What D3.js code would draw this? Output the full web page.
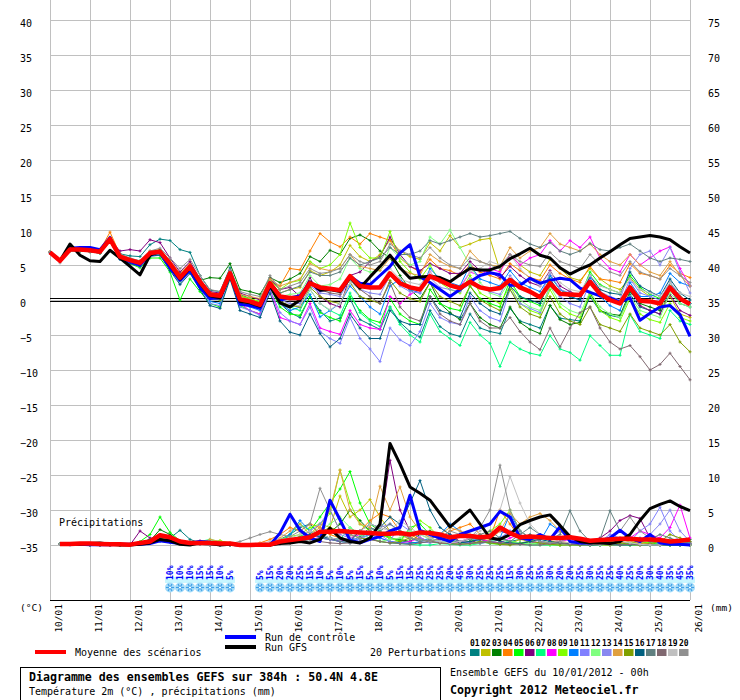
<!DOCTYPE html>
<html lang="fr">
<head>
<meta charset="utf-8">
<title>Diagramme des ensembles GEFS</title>
<script src="https://cdn.jsdelivr.net/npm/d3@7"></script>
<style>
  body { margin: 0; background: #fff; }
  svg text { font-family: "DejaVu Sans Mono", monospace; }
</style>
</head>
<body>
<script>
// ---- data ----
var dayLabels = ["10/01","11/01","12/01","13/01","14/01","15/01","16/01","17/01","18/01",
                 "19/01","20/01","21/01","22/01","23/01","24/01","25/01","26/01"];
var tempTicks = [-35,-30,-25,-20,-15,-10,-5,0,5,10,15,20,25,30,35,40];
var precTicks = [0,5,10,15,20,25,30,35,40,45,50,55,60,65,70,75];
var pertNames = ["01","02","03","04","05","06","07","08","09","10",
                 "11","12","13","14","15","16","17","18","19","20"];
var pertColors = ["#008080","#c0c000","#008000","#ff8000","#00ff00","#800080","#00ff80","#ff00ff","#80ff00","#0080ff",
                  "#8080ff","#80ff80","#8888f0","#e0a040","#80a000","#006080","#608080","#806870","#c0c0c0","#909090"];

// temperature 2m (°C), every 6 h from 10/01 00h to 26/01 00h
var tempMean = [6.8,5.6,7.2,7.2,7.1,6.9,8.7,6.2,5.7,5.3,6.7,6.9,5.2,3.2,4.8,2.6,0.8,0.6,3.8,0.1,
  -0.2,-0.7,2.4,0.5,0.3,0.3,2.4,1.8,1.6,1.4,3.4,2.0,1.8,1.8,3.8,2.4,1.8,1.5,3.4,2.8,
  2.1,1.7,2.6,1.8,1.5,1.7,2.9,1.8,1.2,0.4,2.4,0.9,0.8,0.7,2.6,0.9,0.0,-0.5,1.8,-0.1,-0.2,-0.5,1.8,0.2,-0.6];
var tempControl = [6.8,5.6,7.4,7.5,7.5,7.2,8.9,6.0,5.5,5.0,6.5,6.8,4.6,
  2.8,4.3,1.8,0.2,0.3,3.7,-0.6,-0.8,-1.2,2.0,0.0,0.3,
  0.6,2.5,1.4,1.6,1.3,3.4,
  2.4,2.2,3.5,4.8,6.7,7.9,3.3,2.5,1.5,0.5,1.5,2.6,3.5,3.9,3.6,2.1,2.1,3.1,2.4,2.8,3.1,2.9,1.7,1.1,0.6,0.3,-0.3,0.3,-2.9,-1.9,-1.0,-0.8,-2.1,-5.2];
var tempGFS = [6.8,5.6,8.0,6.4,5.6,5.5,7.1,6.0,4.8,3.6,6.4,7.0,5.0,
  3.0,4.6,2.4,0.6,0.3,3.6,-0.2,-0.4,-0.9,2.0,-0.4,-1.0,
  0.0,2.6,1.4,1.5,1.2,3.2,
  1.7,3.3,4.8,6.4,4.6,3.1,3.3,3.4,3.2,2.6,3.6,4.5,4.3,4.3,4.8,5.9,6.6,7.4,6.4,6.0,4.6,3.7,4.4,5.0,6.0,6.9,7.9,8.8,9.0,9.2,9.0,8.6,7.6,6.7];

var temp01 = [6.8,5.7,7.4,7.4,7.3,7.2,8.9,6.6,6.3,6.2,7.9,8.7,8.5, 7.2,6.8,3.5,1.4,1.2,4.6,0.8,0.2,-0.4,2.8,-0.5,-1.8,
  -2.5,0.5,-1.5,-3.0,-2.6,0.2,-2.8,-3.5,-4.2,-1.0,-3.2,-4.5,-5.3,-1.5,-3.8,-4.8,-5.2,-2.0,-4.0,-4.5,-4.8,-1.2,-3.0,-3.5,-4.0,-0.8,-2.6,-2.8,-3.0,0.5,-1.6,-2.2,-2.5,0.8,-1.0,-1.5,-2.0,1.5,-0.5,-1.0];
var temp02 = [6.8,5.8,7.3,7.1,7.0,6.8,8.5,6.1,5.8,5.6,7.0,7.2,5.6, 3.8,5.2,2.8,1.0,0.9,3.9,0.6,0.2,-0.3,2.5,1.0,1.5,
  1.8,4.2,3.5,4.0,5.0,7.8,6.2,5.5,6.5,8.6,7.0,6.2,5.8,8.2,7.0,9.2,7.5,8.0,8.6,8.8,4.2,6.5,5.0,4.0,3.5,5.8,4.5,3.2,2.8,4.5,3.0,2.0,1.5,3.2,1.5,0.5,-1.2,0.5,-2.0,-2.5];
var temp03 = [6.8,5.6,7.0,7.0,6.9,6.7,8.4,5.9,5.4,5.0,6.4,6.6,4.5, 2.6,4.5,2.8,3.2,3.1,5.2,1.5,1.2,0.8,3.2,2.5,3.0,
  3.8,6.2,5.5,7.1,6.5,8.8,9.3,8.5,7.0,6.0,3.5,1.5,0.2,2.5,-0.5,-1.8,-2.8,-0.5,-2.5,-3.5,-4.0,-1.0,-3.2,-4.2,-4.8,-0.8,-2.8,-3.5,-3.2,1.0,-1.5,-2.0,-2.2,1.2,-0.5,-1.0,-1.5,2.5,0.5,-0.5];
var temp04 = [6.9,5.7,7.5,7.4,7.3,7.1,9.7,6.5,5.9,5.5,6.9,7.1,5.4, 3.5,5.0,2.9,1.0,0.8,4.0,0.4,0.1,-0.5,2.6,2.0,4.5,
  4.3,7.0,9.5,8.3,7.6,9.0,8.0,9.5,9.0,8.5,6.0,4.8,4.0,5.8,4.5,4.2,3.5,5.0,4.0,3.5,3.0,5.2,4.2,3.2,2.8,5.0,3.8,3.0,2.5,4.8,3.0,2.8,2.5,5.2,3.8,3.5,3.0,5.0,3.8,3.2];
var temp05 = [6.8,5.6,7.1,7.0,6.9,6.7,8.5,5.9,5.2,4.6,6.0,6.0,4.0, 0.0,3.0,1.2,-0.5,-1.0,3.3,-0.8,-1.5,-2.0,1.8,-1.0,-2.0,
  -2.2,0.5,-1.8,-2.5,-3.0,0.5,-1.5,-2.8,-3.2,0.2,-2.0,-3.0,-3.5,1.5,-0.5,-1.2,-1.5,2.0,0.2,-0.5,-1.0,2.8,0.5,-0.2,-0.8,3.5,1.5,0.8,0.5,4.0,2.2,1.5,1.0,3.5,1.8,0.8,0.2,2.0,0.5,-0.5];
var temp06 = [6.8,5.7,7.3,7.3,7.2,7.0,8.6,7.0,7.2,7.0,8.6,8.2,6.0, 4.0,5.5,3.0,1.2,1.0,4.2,1.0,0.5,0.0,3.0,1.5,1.8,
  0.5,3.2,0.5,-0.5,-1.0,3.5,4.0,5.5,6.2,9.0,6.5,4.8,4.2,5.2,4.5,3.8,3.8,5.5,4.2,4.0,3.2,4.8,3.5,2.5,2.0,4.2,2.0,1.2,0.5,2.5,0.8,0.2,-0.5,1.5,-0.8,-1.5,-2.0,0.8,-1.5,-2.2];
var temp07 = [6.8,5.6,7.2,7.1,7.0,6.8,8.5,6.1,5.6,5.2,6.5,6.6,4.8, 2.8,4.2,2.2,0.5,0.2,3.5,-0.2,-0.6,-1.0,2.0,-0.5,-1.0,
  -1.5,1.5,-0.5,-1.5,-2.2,1.0,-1.8,-3.0,-3.8,-1.0,-3.5,-5.0,-6.0,-2.0,-4.5,-5.5,-6.5,-3.2,-5.0,-6.2,-9.5,-6.0,-7.0,-7.6,-7.9,-5.1,-7.0,-7.5,-8.6,-5.1,-6.5,-7.9,-7.9,-2.1,-4.5,-5.0,-5.5,-1.5,-3.0,-3.5];
var temp08 = [6.8,5.6,7.2,7.2,7.1,6.9,8.8,6.3,5.8,5.4,6.8,7.0,5.3, 3.3,4.9,2.5,0.6,0.4,3.8,-0.5,-1.5,-2.0,1.5,-2.5,-3.0,
  -3.5,-0.5,-4.0,-4.5,-4.9,-1.5,-3.5,-4.0,-4.2,0.5,-0.5,0.8,1.5,4.0,2.5,2.0,1.8,4.0,3.5,4.5,4.0,6.5,5.0,6.0,6.5,8.5,7.0,8.5,7.5,9.0,6.0,4.5,4.0,6.5,5.0,6.0,7.0,7.6,4.5,2.0];
var temp09 = [6.8,5.7,7.3,7.2,7.1,6.9,8.6,6.2,5.7,5.2,6.5,6.8,5.0, 3.0,4.6,2.5,0.8,0.5,3.9,0.5,0.2,-0.2,2.8,1.5,2.5,
  2.8,5.5,4.5,5.0,6.5,11.0,7.5,6.0,6.0,9.8,5.5,4.0,3.0,5.0,2.5,1.5,1.0,3.5,1.0,0.2,-0.5,2.0,-0.5,-1.5,-2.0,1.5,-1.0,-2.0,-2.5,0.8,-1.5,-2.5,-3.0,0.2,-2.0,-2.8,-3.2,-0.5,-2.5,-3.0];
var temp10 = [6.8,5.6,7.2,7.3,7.2,7.0,8.7,6.0,5.5,5.0,6.5,6.6,4.6, 2.8,4.3,2.0,-0.2,-0.5,3.5,-0.5,-1.0,-1.5,1.8,-0.5,-1.5,
  -1.0,0.8,-2.4,-1.5,-0.5,2.0,0.5,-1.0,-2.0,2.0,3.0,1.5,1.0,4.5,3.0,2.5,2.0,5.0,3.0,2.5,2.0,4.2,2.5,1.8,1.2,3.5,1.5,0.5,0.0,3.2,0.5,-0.8,-1.5,2.5,0.5,0.5,1.0,3.8,2.5,2.0];
var temp11 = [6.8,5.6,7.3,7.2,7.0,6.8,8.4,5.8,5.3,4.8,6.2,6.4,4.4, 2.4,4.0,1.8,-0.5,-0.8,3.3,-1.0,-1.5,-2.2,1.5,-1.8,-3.0,
  -3.5,-1.0,-4.5,-5.5,-6.2,-2.5,-5.5,-7.0,-8.8,-4.0,-5.7,-6.5,-4.5,-0.5,-2.5,-3.2,-3.5,0.5,-1.5,-2.5,-3.0,1.5,-0.5,-1.2,-1.8,2.0,0.5,-0.5,-1.0,2.5,0.8,0.0,-0.5,3.0,1.0,0.5,0.0,2.5,0.5,-0.5];
var temp12 = [6.8,5.6,7.2,7.1,7.0,6.8,8.6,6.0,5.5,5.0,6.4,6.6,4.7, 2.6,4.2,2.0,0.2,0.0,3.5,0.0,-0.5,-1.0,2.2,0.5,0.8,
  1.0,3.5,2.0,2.2,3.0,6.0,4.5,4.0,4.2,7.5,6.0,5.0,5.5,9.0,8.0,10.0,7.5,5.0,2.5,1.0,0.5,2.8,0.0,-1.0,-1.5,2.0,-0.5,-1.5,-2.0,1.2,-1.0,-2.0,-2.5,0.5,-1.5,-2.0,-2.5,1.0,-0.5,-1.0];
var temp13 = [6.8,5.7,7.2,7.2,7.1,6.9,8.6,6.1,5.6,5.2,6.6,6.8,5.0, 3.0,4.6,2.3,0.4,0.2,3.7,0.0,-0.4,-1.0,2.2,0.0,-0.5,
  -0.5,2.0,1.0,0.8,0.5,3.0,1.5,1.0,0.8,3.5,2.0,1.2,1.0,3.2,1.8,1.5,1.2,3.0,2.0,1.2,0.8,3.5,1.8,1.0,0.5,3.8,1.5,1.0,0.5,3.5,1.2,0.5,0.0,4.5,6.5,7.0,5.0,7.5,4.0,1.0];
var temp14 = [6.9,5.7,7.3,7.3,7.2,7.0,9.0,6.4,5.9,5.5,6.9,7.1,5.4, 3.5,5.0,2.8,1.0,0.8,4.0,0.8,0.5,0.2,3.0,2.0,2.5,
  3.0,5.2,4.5,4.2,4.5,6.5,4.8,4.5,4.2,6.0,4.5,3.8,3.5,6.5,5.5,4.8,4.5,7.0,5.5,5.0,4.8,7.5,6.0,7.0,7.5,9.5,8.0,7.5,7.0,8.0,6.5,5.5,5.0,6.5,5.0,4.0,3.5,5.5,3.5,2.0];
var temp15 = [6.8,5.6,7.1,7.1,7.0,6.8,8.5,6.0,5.5,5.1,6.5,6.7,4.9, 2.9,4.4,2.2,0.3,0.0,3.5,-0.2,-0.6,-1.2,2.0,-0.2,-0.8,
  -1.0,1.8,0.5,-0.2,-0.5,2.5,0.5,0.0,-0.5,2.8,1.0,0.2,-0.2,2.5,0.5,-0.2,-0.8,2.0,0.0,-0.8,-1.5,1.5,-1.0,-2.0,-2.5,0.5,-2.0,-3.0,-3.5,-1.0,-3.5,-4.0,-4.5,-2.0,-4.0,-4.5,-5.0,-3.5,-6.0,-7.4];
var temp16 = [6.8,5.6,7.1,7.0,6.9,6.7,8.3,5.8,5.2,4.8,6.3,6.4,4.2, 2.2,3.8,1.5,-0.8,-1.2,3.0,-1.5,-2.0,-2.5,1.0,-3.0,-4.6,
  -5.0,-2.0,-4.8,-6.7,-5.5,-2.0,-4.0,-5.5,-5.5,-1.5,-3.0,-3.5,-3.5,0.5,-1.5,-2.0,-2.5,1.0,-0.5,-1.5,-2.0,2.0,0.5,0.0,-0.5,3.0,1.0,0.5,0.0,3.5,1.5,1.0,0.8,4.0,2.0,1.2,0.5,3.0,1.0,0.0];
var temp17 = [6.8,5.6,7.2,7.2,7.1,6.9,8.7,6.2,5.7,5.3,6.7,6.9,5.2, 3.2,4.8,2.5,0.7,0.5,3.8,0.3,0.0,-0.5,2.6,1.0,1.5,
  2.0,4.0,3.5,3.5,4.0,6.0,5.0,5.5,6.0,7.5,6.5,6.5,7.0,8.5,8.0,8.5,9.0,9.5,9.0,9.2,9.5,9.8,8.8,8.0,7.5,8.2,7.0,6.5,7.0,8.1,7.2,7.0,7.5,8.0,7.0,6.0,5.5,6.0,5.8,5.5];
var temp18 = [6.8,5.6,7.2,7.1,7.0,6.8,8.6,6.1,5.6,5.2,6.6,6.8,5.0, 3.0,4.7,2.4,0.5,0.3,3.7,0.0,-0.3,-0.8,2.4,0.2,0.0,
  0.0,2.5,1.5,1.0,0.8,3.2,1.5,0.5,-0.5,2.5,-1.0,-2.5,-3.0,0.5,-2.0,-3.0,-3.5,-0.5,-3.0,-4.0,-4.0,-2.5,-4.5,-6.0,-7.1,-4.0,-6.7,-4.0,-1.8,-1.0,-4.0,-6.0,-7.0,-6.5,-8.1,-10.0,-9.2,-7.6,-9.5,-11.4];
var temp19 = [6.8,5.7,7.2,7.2,7.1,6.9,8.7,6.3,5.8,5.4,6.8,7.0,5.3, 3.4,4.9,2.7,0.9,0.7,3.9,0.4,0.0,-0.5,2.6,0.2,-0.8,
  -0.8,1.5,-0.5,-1.4,-0.5,2.5,1.5,1.8,2.0,4.5,3.0,2.5,2.2,4.0,2.5,2.0,1.5,4.0,4.5,5.5,5.0,6.5,4.5,3.0,2.0,4.0,2.5,1.5,1.2,3.5,2.0,1.5,1.0,3.0,1.5,1.0,0.5,2.5,1.0,0.5];
var temp20 = [6.7,5.3,7.0,7.0,6.9,6.7,8.4,6.6,6.0,5.6,7.0,7.4,6.0, 4.5,5.8,3.5,1.5,1.2,4.3,1.2,0.8,0.5,3.5,1.5,2.0,
  2.5,4.5,3.8,4.0,4.5,6.5,5.5,5.0,5.5,8.0,7.0,6.5,6.0,7.5,6.0,5.0,4.5,6.0,5.5,5.0,4.5,6.5,5.5,5.0,4.8,6.8,5.5,5.0,4.5,6.5,5.0,4.0,3.5,5.5,4.0,3.5,3.0,4.5,3.5,2.5];

// precipitation (mm per 6 h), first step has no value
var precMean = [null,0.15,0.15,0.2,0.2,0.15,0.1,0.1,0.05,0.3,0.5,1.4,1.1,0.5,0.3,0.3,0.3,0.2,0.2,0.0,
  0.0,0.05,0.05,0.5,0.7,0.9,1.1,1.9,1.9,2.0,1.9,1.8,1.7,1.6,1.6,1.7,1.5,1.8,1.7,1.5,
  1.1,1.3,1.3,1.1,1.2,2.5,1.7,1.1,1.2,1.1,1.0,1.0,1.1,0.9,0.6,0.7,0.8,0.9,0.9,0.8,0.8,0.7,0.5,0.6,0.8];
var precControl = [null,0.1,0.1,0.1,0.05,0.05,0.05,0.1,0.1, 0.1,0.2,0.6,0.4,0.2,0.3,0.5,0.4,0.2,0.1, 0,0,0,0,
  1.7,4.4,2.1,1.0,0.5,6.4,3.6,0.7,0.3,0.8,1.2,2.0,2.5,7.1,2.1,1.5,1.0,0.5,
  1.5,2.0,2.5,3.0,4.8,4.0,1.0,0.8,1.5,0.8,2.6,0.5, 0.3,0.3,0.5,1.0,2.1,1.0,0.5,1.5,0.3,0.1,0.1,0.0];
var precGFS = [null,0.2,0.2,0.1,0.2,0.3,0.1,0.0,0.0, 0.1,0.3,0.8,0.6,0.1,0.0,0.3,0.2,0.0,0.1, 0,0,0,0,
  0.2,0.3,0.5,0.3,0.8,2.4,1.0,0.5,0.3,1.0,3.0,14.5,11.6,8.3,7.4,6.4,4.5,2.6,
  3.8,5.0,3.0,1.0,0.8,1.5,2.9,3.5,4.0,4.3,2.8,1.2, 0.5,0.3,0.3,0.2,0.5,1.5,3.5,5.2,5.8,6.3,5.5,4.9];

var prec01 = [null,0.2,0.1,0.2,0.1,0.1,0.0,0.1,0.0, 0.3,0.8,1.5,1.0,2.1,0.8,0.3,0.2,0.1,0.0, 0,0,0,0.2,
  0.8,1.5,2.5,3.0,1.5,2.0,1.0,0.5,1.2,2.5,1.8,1.0,0.6,0.4,0.3,0.5,1.0,0.8,
  0.3,0.2,0.4,0.6,1.0,0.5,0.8,1.5,0.5,0.3,0.2,0.1, 0.2,0.1,0.0,0.3,0.5,0.2,0.1,0.0,0.1,0.0,0.2,0.1];
var prec02 = [null,0.1,0.1,0.1,0.0,0.0,0.0,0.1,0.1, 0.2,0.5,1.0,0.8,0.4,0.3,0.2,0.5,0.6,0.2, 0,0,0,0.1,
  0.5,1.0,0.8,1.5,3.0,2.5,7.0,4.0,5.0,6.5,4.0,2.0,1.5,0.8,2.0,1.0,0.5,0.3,
  0.2,0.5,1.0,0.5,0.3,0.2,0.8,0.5,1.2,0.6,0.3,0.2, 0.1,0.2,0.5,0.3,0.1,0.0,0.2,0.5,0.3,0.1,0.0,0.0];
var prec03 = [null,0.1,0.1,0.1,0.1,0.0,0.0,0.0,0.0, 0.2,0.6,2.2,1.5,0.5,0.2,0.1,0.3,0.2,0.1, 0,0,0,0,
  0.3,0.8,1.0,1.5,2.0,1.8,3.0,5.0,3.5,2.0,1.5,1.0,0.8,0.5,1.5,2.0,1.0,0.5,
  0.3,0.5,0.8,0.4,0.2,0.1,0.3,0.5,0.2,0.1,0.0,0.2, 0.1,0.0,0.0,0.2,0.5,0.8,0.3,0.1,0.0,0.2,0.5,0.8];
var prec04 = [null,0.1,0.1,0.2,0.1,0.0,0.0,0.0,0.0, 0.1,0.4,0.8,0.6,0.3,0.2,0.1,0.0,0.0,0.0, 0,0,0.3,0.8,
  1.5,2.5,2.0,3.0,2.5,1.5,1.0,0.8,2.0,3.5,4.5,4.0,2.0,1.5,0.8,0.5,1.0,2.0,
  2.5,3.0,1.5,1.0,5.0,3.0,1.0,0.5,0.3,0.2,0.5,0.3, 0.2,0.1,0.0,0.0,0.3,0.5,0.2,0.1,0.0,0.0,0.2,0.3];
var prec05 = [null,0.1,0.2,0.2,0.1,0.1,0.0,0.0,0.1, 0.5,1.5,4.0,1.8,0.6,0.4,0.3,0.5,0.3,0.1, 0,0,0,0.1,
  0.5,0.8,1.2,2.0,4.0,6.0,8.0,10.5,6.0,3.0,2.0,1.0,0.5,2.5,3.0,1.5,1.0,0.5,
  1.5,0.8,0.5,0.2,0.1,0.5,0.3,0.2,0.1,0.0,0.0,0.1, 0.0,0.0,0.1,0.0,0.0,0.2,0.5,0.3,0.1,0.0,0.0,0.0];
var prec06 = [null,0.1,0.1,0.1,0.1,0.0,0.0,0.0,0.0, 2.0,1.0,0.8,0.5,0.3,0.4,0.6,0.3,0.5,0.2, 0,0,0,0,
  0.2,0.5,0.8,1.0,1.5,1.0,0.5,0.8,2.0,1.5,2.5,12.1,5.0,2.0,1.0,0.5,0.8,1.5,
  0.5,0.3,0.8,1.5,2.0,1.5,1.0,0.5,0.3,0.2,0.1,0.1, 0.2,0.5,1.0,2.0,3.5,4.2,3.8,1.0,0.5,0.2,0.1,0.2];
var prec07 = [null,0.1,0.1,0.1,0.0,0.0,0.1,0.1,0.0, 0.3,0.8,1.2,0.8,0.3,0.2,0.5,0.8,0.4,0.2, 0,0,0,0.2,
  0.5,1.5,3.0,2.0,1.5,1.0,0.8,2.5,1.5,1.0,0.5,0.3,0.2,0.1,0.0,0.0,0.2,0.1,
  0.0,0.0,0.2,0.5,1.0,0.3,0.1,0.0,0.0,0.0,0.1,0.0, 0.0,0.0,0.0,0.1,0.0,0.0,0.0,0.0,0.1,0.0,0.0,0.0];
var prec08 = [null,0.1,0.1,0.1,0.1,0.1,0.0,0.0,0.0, 0.2,0.5,0.8,0.6,0.3,0.2,0.2,0.1,0.1,0.0, 0,0,0,0,
  0.2,0.5,1.0,1.5,1.0,0.8,0.5,1.0,1.5,2.0,1.0,0.5,0.3,0.5,1.0,0.5,0.3,0.2,
  0.5,1.0,0.8,0.5,0.3,1.0,1.5,0.5,0.3,0.2,0.5,0.8, 0.5,0.3,0.2,0.1,0.5,1.0,2.0,1.5,1.0,2.5,5.7,1.0];
var prec09 = [null,0.1,0.1,0.1,0.0,0.0,0.0,0.1,0.0, 0.2,0.6,1.2,0.8,0.4,0.3,0.2,0.2,0.6,0.3, 0,0,0,0.1,
  0.8,1.2,1.5,2.5,3.0,4.5,10.7,6.0,3.0,2.0,1.5,1.0,0.5,2.0,3.5,2.5,1.0,0.5,
  1.5,1.0,0.8,2.0,3.0,5.0,2.0,1.0,0.5,0.3,0.2,0.1, 0.0,0.1,0.0,0.0,0.2,0.0,0.0,0.5,0.2,0.0,0.0,0.0];
var prec10 = [null,0.1,0.0,0.1,0.0,0.0,0.0,0.1,0.0, 0.1,0.3,0.5,0.4,0.2,0.1,0.1,0.0,0.0,0.0, 0,0,0,0,
  0.2,1.5,3.5,2.0,1.0,0.8,0.5,0.3,1.0,1.5,1.0,0.5,0.3,0.2,0.5,1.0,1.5,3.0,
  2.0,1.0,0.5,0.3,1.0,4.5,2.0,1.0,0.5,3.0,2.0,1.0, 0.5,0.3,0.2,0.1,0.0,0.5,1.0,0.5,0.2,0.1,0.0,0.0];
var prec11 = [null,0.1,0.1,0.1,0.1,0.0,0.0,0.0,0.0, 0.2,0.5,1.0,0.7,0.3,0.2,0.1,0.1,0.0,0.0, 0,0,0,0,
  0.3,0.5,1.0,2.0,3.0,5.0,2.0,1.0,0.5,0.8,1.5,0.5,3.0,2.0,1.0,0.5,0.3,1.0,
  0.5,0.3,0.2,0.5,1.0,2.0,1.0,0.5,0.3,0.2,0.1,0.0, 0.1,0.2,0.5,1.5,1.0,0.5,2.0,3.0,5.4,2.0,0.5,0.2];
var prec12 = [null,0.1,0.1,0.1,0.1,0.1,0.0,0.0,0.0, 0.3,0.7,1.5,1.0,0.5,0.3,0.2,0.8,0.5,0.2, 0,0,0,0.1,
  0.3,0.5,0.8,1.2,2.0,3.0,4.0,2.5,1.5,1.0,0.5,0.8,1.0,2.0,1.5,0.8,0.5,0.3,
  0.2,0.1,0.3,0.5,0.8,0.5,0.3,0.2,0.1,0.0,0.0,0.0, 0.0,0.0,0.0,0.1,0.0,0.0,0.1,0.0,0.0,0.0,0.2,0.5];
var prec13 = [null,0.1,0.1,0.1,0.0,0.0,0.0,0.0,0.0, 0.2,0.4,0.8,0.5,0.3,0.2,0.1,0.1,0.0,0.0, 0,0,0,0,
  0.2,0.4,0.6,1.0,1.5,2.0,1.5,1.0,0.8,1.5,2.5,3.0,2.0,1.0,0.5,0.3,0.5,1.0,
  1.5,1.0,0.5,0.3,0.8,2.0,1.0,0.5,0.3,1.0,2.0,1.0, 0.5,0.3,0.2,0.5,1.0,0.8,0.5,1.5,3.0,5.0,2.0,0.5];
var prec14 = [null,0.1,0.1,0.1,0.1,0.0,0.0,0.0,0.0, 0.2,0.6,1.0,0.8,0.4,0.3,0.2,0.8,0.5,0.2, 0,0,0,0.2,
  1.0,2.0,3.0,1.5,2.5,5.0,10.7,5.0,3.0,2.5,8.4,5.0,8.3,4.0,2.0,1.0,1.5,2.5,
  2.0,1.5,1.0,0.8,2.0,4.5,3.0,4.0,4.5,3.5,2.0,1.0, 0.5,0.3,0.5,1.0,0.8,0.5,0.3,0.2,0.5,0.3,0.1,0.0];
var prec15 = [null,0.1,0.1,0.1,0.0,0.0,0.0,0.0,0.0, 0.2,0.5,0.9,0.6,0.3,0.2,0.1,0.2,0.1,0.0, 0,0,0,0,
  0.2,0.4,0.8,1.2,1.8,2.5,2.0,1.5,1.0,0.8,0.5,0.3,0.5,1.0,0.8,0.5,0.3,0.2,
  0.1,0.2,0.5,0.3,0.1,0.0,0.2,0.5,0.3,0.1,0.0,0.0, 0.0,0.1,0.2,0.5,0.3,0.1,0.0,0.2,0.5,1.5,1.0,0.5];
var prec16 = [null,0.1,0.1,0.1,0.1,0.0,0.0,0.0,0.0, 0.3,0.8,1.2,0.9,0.5,0.3,0.2,0.1,0.1,0.0, 0,0,0,0,
  0.3,0.5,1.0,1.5,1.2,1.0,0.8,0.5,2.0,3.0,2.5,4.0,3.0,6.0,9.2,5.0,2.5,1.5,
  0.3,0.5,0.8,1.0,0.5,0.3,0.2,0.5,0.8,0.5,0.3,0.2, 0.1,0.0,0.0,0.2,0.0,0.0,0.1,0.0,0.0,0.0,0.0,0.1];
var prec17 = [null,0.1,0.1,0.1,0.0,0.0,0.0,0.0,0.0, 0.2,0.5,0.8,0.6,0.3,0.2,0.1,0.0,0.0,0.0, 0,0,0,0,
  0.2,0.3,0.5,0.8,1.0,0.8,0.5,0.3,0.5,1.0,2.0,3.0,2.0,1.0,0.5,0.8,1.5,1.0,
  0.5,0.8,1.5,2.0,1.0,0.5,1.5,2.5,1.5,0.8,1.5,4.9, 2.0,0.5,0.8,4.9,2.0,1.0,0.5,0.8,1.5,1.0,0.5,0.3];
var prec18 = [null,0.1,0.1,0.1,0.1,0.0,0.0,0.0,0.0, 0.2,0.4,0.7,0.5,0.3,0.2,0.1,0.1,0.0,0.0, 0,0,0,0,
  0.2,0.3,0.5,0.8,0.5,0.3,0.2,0.3,0.5,0.8,0.5,0.3,0.2,0.1,0.3,0.5,0.3,0.2,
  0.1,0.2,0.3,0.5,0.3,0.2,0.1,0.0,0.0,0.2,0.3,0.1, 0.0,0.0,0.1,0.0,0.0,0.1,0.0,0.0,0.0,0.1,0.0,0.0];
var prec19 = [null,0.1,0.1,0.1,0.1,0.0,0.0,0.0,0.0, 0.2,0.5,0.8,0.6,0.3,0.2,0.1,0.1,0.0,0.0, 0,0,0.2,0.5,
  0.8,1.0,1.5,2.0,1.5,1.0,0.8,1.0,2.0,3.0,2.5,2.0,3.5,2.5,1.5,1.0,0.5,0.3,
  0.5,1.0,2.0,3.0,5.0,9.8,6.0,3.0,1.5,1.0,0.5,0.3, 0.2,0.1,0.0,0.2,0.5,0.3,0.1,0.0,0.0,0.2,0.1,0.0];
var prec20 = [null,0.1,0.1,0.2,0.1,0.0,0.0,0.0,0.0, 0.1,0.3,0.6,0.4,0.2,0.1,0.1,0.0,0.0,0.2, 0.5,1.0,1.5,1.9,
  1.5,1.2,2.0,3.0,8.1,5.0,2.0,1.5,1.0,2.0,3.0,2.0,1.5,1.0,0.8,0.5,1.0,2.0,
  1.5,1.0,2.5,5.0,11.4,5.0,2.0,1.0,0.5,0.3,0.5,1.0, 0.8,0.5,0.3,1.0,2.0,4.0,2.0,1.0,0.5,0.3,0.2,0.1];

// snow probability (%) shown under the chart
var snowPct = [null,null,null,null,null,null,null,null,null,null,null,null,
  10,10,10,15,15,10,5, null,null,
  5,15,20,20,25,15,10,5,10,5,15,5,10,5,15,15,25,25,25,20,45,30,25,25,25,15,30,25,35,30,20,20,25,30,25,25,40,25,20,30,40,35,45,35];

var tempPert = [temp01,temp02,temp03,temp04,temp05,temp06,temp07,temp08,temp09,temp10,
                temp11,temp12,temp13,temp14,temp15,temp16,temp17,temp18,temp19,temp20];
var precPert = [prec01,prec02,prec03,prec04,prec05,prec06,prec07,prec08,prec09,prec10,
                prec11,prec12,prec13,prec14,prec15,prec16,prec17,prec18,prec19,prec20];

// ---- chart ----
var w = 740, h = 700;
var hours = tempMean.map(function(d, i) { return i * 6; });
var dayHours = dayLabels.map(function(d, i) { return i * 24; });

var x = d3.scaleLinear().domain([0, 384]).range([50, 690]);
var yT = d3.scaleLinear().domain([-35, 40]).range([545, 20]);
var yP = d3.scaleLinear().domain([0, 75]).range([545, 20]);

var svg = d3.select("body").append("svg")
            .attr("width", w).attr("height", h);

// grid
svg.append("g")
   .attr("transform", "translate(0,600)")
   .call(d3.axisBottom(x).tickValues(dayHours).tickSize(-600).tickFormat(""))
   .call(function(g) { g.select(".domain").remove(); })
   .selectAll("line").attr("stroke", "#c0c0c0");

svg.append("g")
   .attr("transform", "translate(50,0)")
   .call(d3.axisLeft(yT).tickValues(tempTicks).tickSize(-640).tickFormat(""))
   .call(function(g) { g.select(".domain").remove(); })
   .selectAll("line").attr("stroke", "#c0c0c0");

// left / right axis labels
svg.append("g")
   .attr("transform", "translate(20,0)")
   .call(d3.axisLeft(yT).tickValues(tempTicks).tickSize(0))
   .call(function(g) { g.select(".domain").remove(); })
   .selectAll("text")
   .attr("x", 0).attr("y", 6).attr("dy", null)
   .attr("text-anchor", "start")
   .attr("font-family", "DejaVu Sans Mono").attr("font-size", "10px").attr("fill", "#000");

svg.append("g")
   .attr("transform", "translate(708,0)")
   .call(d3.axisRight(yP).tickValues(precTicks).tickSize(0))
   .call(function(g) { g.select(".domain").remove(); })
   .selectAll("text")
   .attr("x", 0).attr("y", 6).attr("dy", null)
   .attr("text-anchor", "start")
   .attr("font-family", "DejaVu Sans Mono").attr("font-size", "10px").attr("fill", "#000");

// zero line (double)
[-1.5, 1.5].forEach(function(o) {
  svg.append("line")
     .attr("x1", x(0)).attr("x2", x(384))
     .attr("y1", yT(0) + o).attr("y2", yT(0) + o)
     .attr("stroke", "#000").attr("stroke-width", 1);
});

// bottom axis line + day labels
svg.append("line")
   .attr("x1", 50).attr("x2", 690).attr("y1", 600.5).attr("y2", 600.5)
   .attr("stroke", "#000").attr("stroke-width", 1.2);

svg.selectAll(".daylabel")
   .data(dayLabels)
   .enter().append("text")
   .attr("class", "daylabel")
   .attr("transform", function(d, i) { return "translate(" + (x(dayHours[i]) + 12) + ",604) rotate(-90)"; })
   .attr("text-anchor", "end")
   .attr("font-size", "9.5px")
   .text(function(d) { return d; });

svg.append("text").attr("x", 20).attr("y", 611).attr("font-size", "9.5px").text("(°C)");
svg.append("text").attr("x", 710).attr("y", 611).attr("font-size", "9.5px").text("(mm)");

svg.append("text").attr("x", 59).attr("y", 526).attr("font-size", "10px").text("Précipitations");

// snow row
var snowIdx = snowPct.map(function(d, i) { return d == null ? -1 : i; }).filter(function(i) { return i >= 0; });
var snow = svg.append("g");
snow.selectAll("rect")
    .data(snowIdx).enter().append("rect")
    .attr("x", function(i) { return x(hours[i]) - 5; })
    .attr("y", 577).attr("width", 10).attr("height", 6)
    .attr("fill", "#c8f6ff");
var flakes = snow.selectAll(".flake")
    .data(snowIdx).enter().append("g")
    .attr("class", "flake")
    .attr("transform", function(i) { return "translate(" + x(hours[i]) + ",587.5)"; });
flakes.append("circle").attr("r", 5).attr("fill", "#a6dcf8");
[0, 60, 120].forEach(function(a) {
  flakes.append("line")
        .attr("x1", -4).attr("x2", 4).attr("y1", 0).attr("y2", 0)
        .attr("transform", "rotate(" + a + ")")
        .attr("stroke", "#3d9ee8").attr("stroke-width", 1.1);
});
flakes.append("circle").attr("r", 1.1).attr("fill", "#ffffff");
snow.selectAll(".pct")
    .data(snowIdx).enter().append("text")
    .attr("class", "pct")
    .attr("transform", function(i) { return "translate(" + (x(hours[i]) + 2.5) + ",580) rotate(-90)"; })
    .attr("font-size", "8px").attr("font-weight", "bold").attr("fill", "#0000ff")
    .text(function(i) { return snowPct[i] + "%"; });

// series
var lineT = d3.line()
    .defined(function(d) { return d != null; })
    .x(function(d, i) { return x(hours[i]); })
    .y(function(d) { return yT(d); });
var lineP = d3.line()
    .defined(function(d) { return d != null; })
    .x(function(d, i) { return x(hours[i]); })
    .y(function(d) { return yP(d); });

function drawPert(data, yScale, line, color) {
  var g = svg.append("g");
  g.append("path").attr("d", line(data))
   .attr("fill", "none").attr("stroke", color).attr("stroke-width", 1);
  g.selectAll("path.m")
   .data(data.map(function(d, i) { return [i, d]; }).filter(function(p) { return p[1] != null; }))
   .enter().append("path").attr("class", "m")
   .attr("d", function(p) {
      var px = x(hours[p[0]]), py = yScale(p[1]);
      return "M" + (px - 1.5) + "," + py + "H" + (px + 1.5) + "M" + px + "," + (py - 1.5) + "V" + (py + 1.5);
   })
   .attr("stroke", color).attr("stroke-width", 1);
}

tempPert.forEach(function(s, k) { drawPert(s, yT, lineT, pertColors[k]); });
precPert.forEach(function(s, k) { drawPert(s, yP, lineP, pertColors[k]); });

function drawMain(data, line, color, width) {
  svg.append("path").attr("d", line(data))
     .attr("fill", "none").attr("stroke", color).attr("stroke-width", width)
     .attr("stroke-linejoin", "round");
}
drawMain(tempControl, lineT, "#0000ff", 3);
drawMain(precControl, lineP, "#0000ff", 3);
drawMain(tempGFS, lineT, "#000000", 3);
drawMain(precGFS, lineP, "#000000", 3);
drawMain(tempMean, lineT, "#ff0000", 4.5);
drawMain(precMean, lineP, "#ff0000", 4.5);

// legend
svg.append("rect").attr("x", 35).attr("y", 650).attr("width", 31).attr("height", 4).attr("fill", "#ff0000");
svg.append("text").attr("x", 75).attr("y", 656).attr("font-size", "10px").text("Moyenne des scénarios");
svg.append("rect").attr("x", 225).attr("y", 635).attr("width", 31).attr("height", 4).attr("fill", "#0000ff");
svg.append("text").attr("x", 265).attr("y", 641).attr("font-size", "10px").text("Run de contrôle");
svg.append("rect").attr("x", 225).attr("y", 645).attr("width", 31).attr("height", 4).attr("fill", "#000000");
svg.append("text").attr("x", 265).attr("y", 651).attr("font-size", "10px").text("Run GFS");
svg.append("text").attr("x", 370).attr("y", 656).attr("font-size", "10px").text("20 Perturbations");

var sw = svg.selectAll(".sw").data(pertNames).enter().append("g").attr("class", "sw")
            .attr("transform", function(d, i) { return "translate(" + (470 + i * 11) + ",0)"; });
sw.append("rect").attr("x", 0).attr("y", 649).attr("width", 9.5).attr("height", 7)
  .attr("fill", function(d, i) { return pertColors[i]; });
sw.append("text").attr("x", 4.75).attr("y", 646).attr("text-anchor", "middle")
  .attr("font-size", "8px").attr("font-weight", "bold").text(function(d) { return d; });

// title box
svg.append("rect").attr("x", 20.5).attr("y", 667.5).attr("width", 420).attr("height", 40)
   .attr("fill", "none").attr("stroke", "#000").attr("stroke-width", 1);
svg.append("text").attr("x", 29).attr("y", 681).attr("font-size", "11.6px").attr("font-weight", "bold")
   .text("Diagramme des ensembles GEFS sur 384h : 50.4N 4.8E");
svg.append("text").attr("x", 29).attr("y", 695).attr("font-size", "10px")
   .text("Température 2m (°C) , précipitations (mm)");
svg.append("text").attr("x", 450).attr("y", 676).attr("font-size", "10px")
   .text("Ensemble GEFS du 10/01/2012 - 00h");
svg.append("text").attr("x", 450).attr("y", 694).attr("font-size", "11.6px").attr("font-weight", "bold")
   .text("Copyright 2012 Meteociel.fr");
</script>
</body>
</html>
